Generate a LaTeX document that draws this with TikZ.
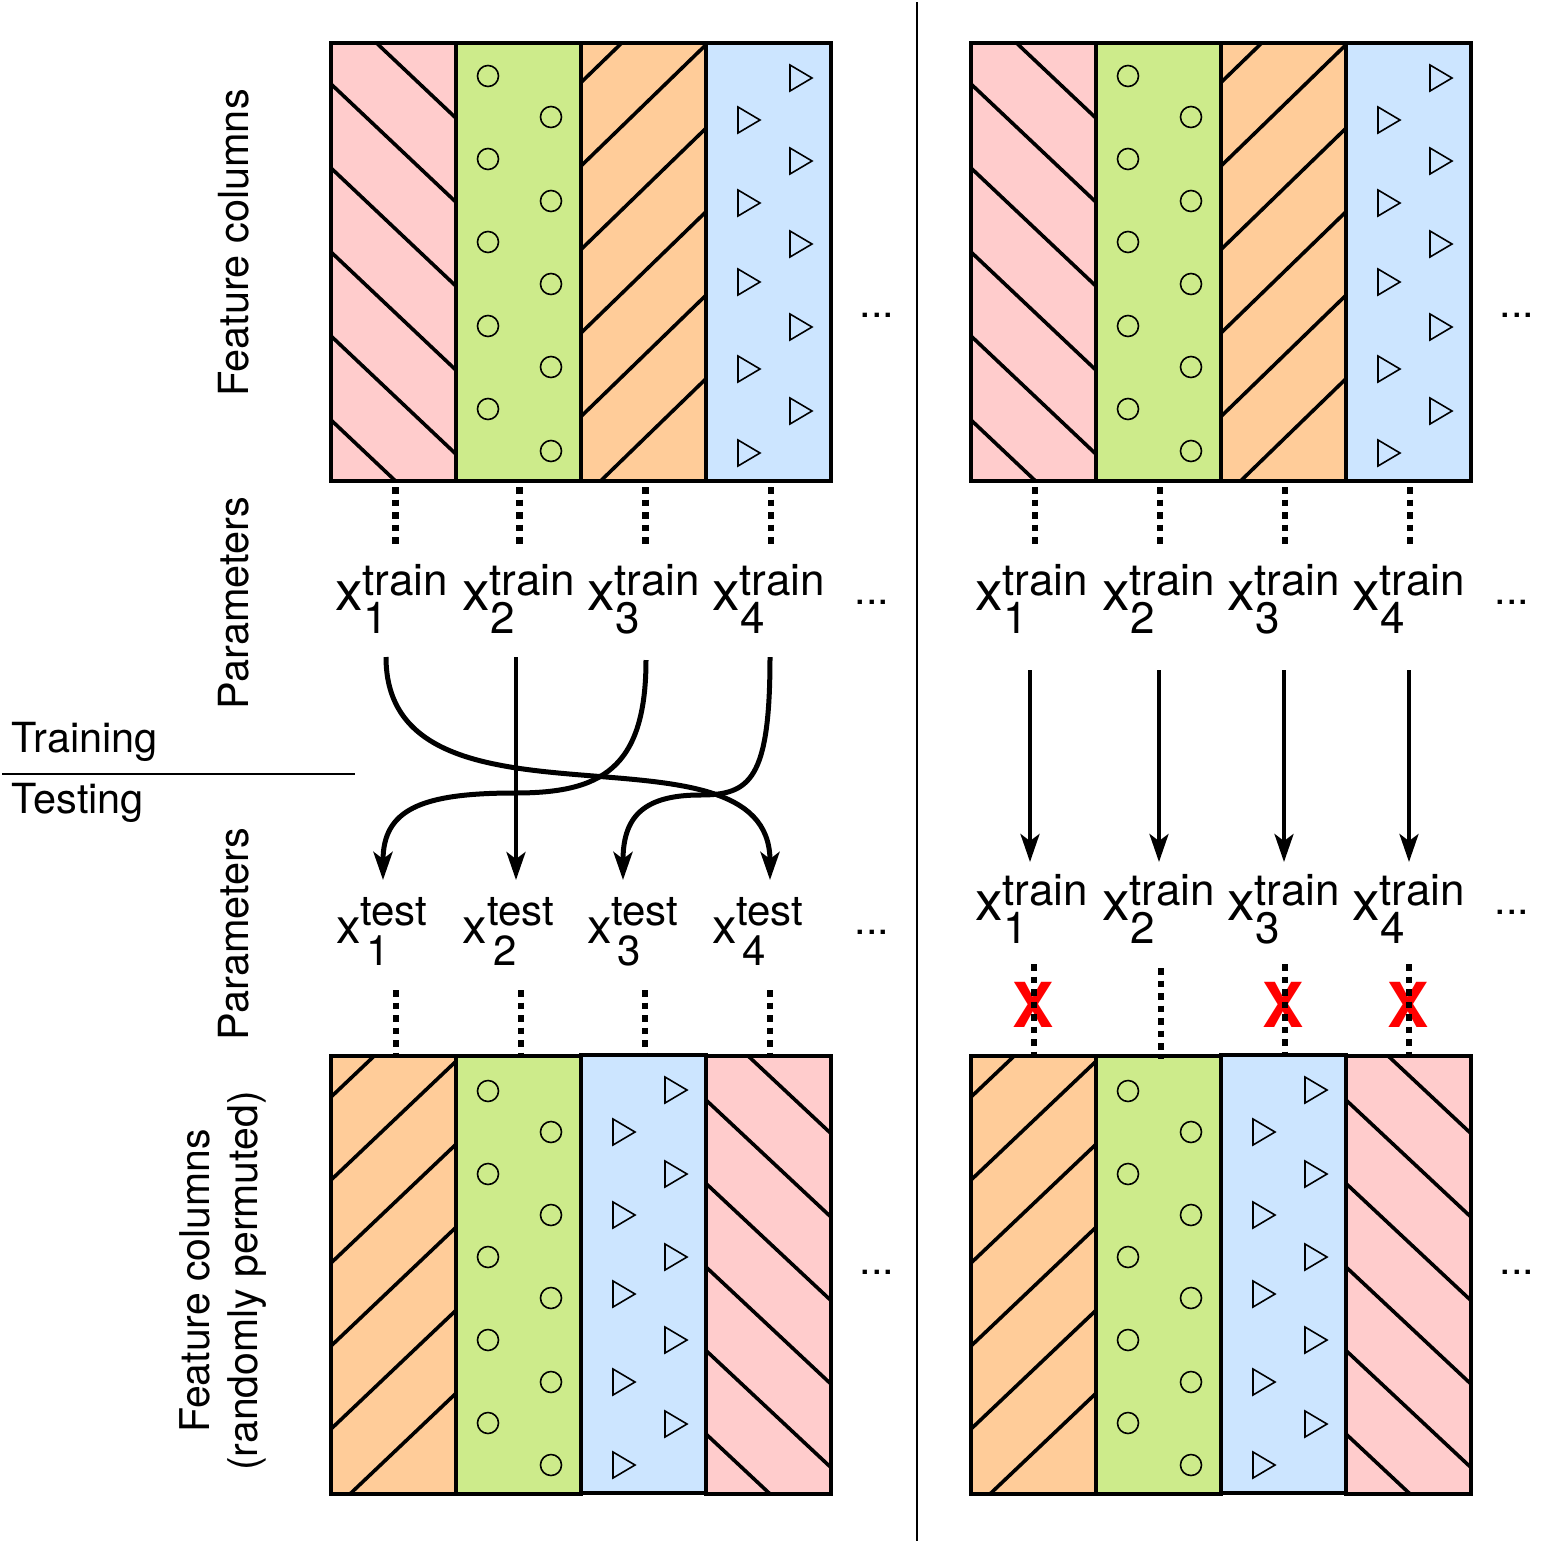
\documentclass[tikz,border=0pt]{standalone}
\usepackage{fontspec}
\setmainfont{TeX Gyre Heros}
\usetikzlibrary{arrows.meta}
\definecolor{cpink}{HTML}{FFCCCC}
\definecolor{cgreen}{HTML}{CDEB8B}
\definecolor{corange}{HTML}{FFCC99}
\definecolor{cblue}{HTML}{CCE5FF}
\definecolor{cred}{HTML}{FF0000}
\tikzset{
  colbox/.style={line width=4pt},
  hatch/.style={line width=3.6pt},
  glyphline/.style={line width=1.6pt},
  dotconn/.style={line width=6.5pt, dash pattern=on 6.5pt off 6pt},
  swaparrow/.style={line width=5pt, -{Stealth[length=28pt,width=19pt,inset=7pt]}},
  keeparrow/.style={line width=4pt, -{Stealth[length=28pt,width=19pt,inset=7pt]}},
  lbl/.style={font=\fontsize{41.5}{48}\selectfont, inner sep=0pt, outer sep=0pt},
  redx/.style={font=\fontsize{62}{62}\selectfont\bfseries, text=cred, inner sep=0pt},
}
\newcommand{\trainlab}[1]{{\fontsize{55}{55}\selectfont x}\rlap{\fontsize{44}{44}\selectfont\raisebox{15pt}{train}}\hspace{1pt}{\fontsize{44}{44}\selectfont\raisebox{-23pt}{#1}}}
\newcommand{\testlab}[1]{{\fontsize{49}{49}\selectfont x}\rlap{\fontsize{42}{42}\selectfont\raisebox{18pt}{test}}\hspace{6pt}{\fontsize{42}{42}\selectfont\raisebox{-22pt}{#1}}}
\newcommand{\toppanel}{%
  \fill[cpink] (331,43) rectangle (456,481);
  \fill[cgreen] (456,43) rectangle (581,481);
  \fill[corange] (581,43) rectangle (706,481);
  \fill[cblue] (706,43) rectangle (831,481);
  \begin{scope}
    \clip (331,43) rectangle (456,481);
    \foreach \yy in {0,84,168,252,336,420} \draw[hatch] (321,\yy-9.45) -- (466,\yy+127.6);
  \end{scope}
  \begin{scope}
    \clip (581,43) rectangle (706,481);
    \foreach \yy in {82.5,166,249.5,333,416.5,500} \draw[hatch] (571,\yy+9.7) -- (716,\yy-131);
  \end{scope}
  \foreach \yy in {76,159,242,326,409} \draw[glyphline] (488,\yy) circle (10.5);
  \foreach \yy in {117,201,284,367,451} \draw[glyphline] (551,\yy) circle (10.5);
  \foreach \yy in {78,161,244,327,411} \draw[glyphline] (790,\yy-13) -- (812,\yy) -- (790,\yy+13) -- cycle;
  \foreach \yy in {120,203,282,369,453} \draw[glyphline] (738,\yy-13) -- (760,\yy) -- (738,\yy+13) -- cycle;
  \foreach \xx in {331,456,581,706} \draw[colbox] (\xx,43) rectangle ++(125,438);
}
\newcommand{\bottompanel}{%
  \fill[corange] (331,1056) rectangle (456,1494);
  \fill[cgreen] (456,1056) rectangle (581,1494);
  \fill[cblue] (581,1055) rectangle (706,1493);
  \fill[cpink] (706,1056) rectangle (831,1494);
  \begin{scope}
    \clip (331,1056) rectangle (456,1494);
    \foreach \yy in {1097,1180,1263,1346,1429,1512} \draw[hatch] (321,\yy+9.5) -- (466,\yy-128.25);
  \end{scope}
  \begin{scope}
    \clip (706,1056) rectangle (831,1494);
    \foreach \yy in {1016.5,1100,1183.5,1267,1350.5,1434} \draw[hatch] (696,\yy-9.36) -- (841,\yy+126.4);
  \end{scope}
  \foreach \yy in {1091,1174,1257,1340,1423} \draw[glyphline] (488,\yy) circle (10.5);
  \foreach \yy in {1132,1215,1298,1382,1465} \draw[glyphline] (551,\yy) circle (10.5);
  \foreach \yy in {1090,1174,1257,1340,1424} \draw[glyphline] (665,\yy-13) -- (687,\yy) -- (665,\yy+13) -- cycle;
  \foreach \yy in {1132,1215,1294,1382,1465} \draw[glyphline] (613,\yy-13) -- (635,\yy) -- (613,\yy+13) -- cycle;
  \draw[colbox] (331,1056) rectangle (456,1494);
  \draw[colbox] (456,1056) rectangle (581,1494);
  \draw[colbox] (706,1056) rectangle (831,1494);
  \draw[colbox] (581,1055) rectangle (706,1493);
}
\begin{document}
\begin{tikzpicture}[x=1pt,y=-1pt]
\fill[white] (0,0) rectangle (1561,1548);
\useasboundingbox (0,0) rectangle (1561,1548);

% panels
\toppanel
\begin{scope}[xshift=640pt]\toppanel\end{scope}
\bottompanel
\begin{scope}[xshift=640pt]\bottompanel\end{scope}

% separators
\draw[line width=2pt] (917,2) -- (917,1541);
\draw[line width=2pt] (2,774) -- (355,774);

% side labels
\node[lbl, rotate=90] (fc1) at (234,243) {Feature columns};
\node[lbl, rotate=90] (par1) at (234,603) {Parameters};
\node[lbl, rotate=90] (par2) at (234,934) {Parameters};
\node[lbl, rotate=90, align=center, font=\fontsize{41}{48}\selectfont] (fc2) at (223,1281) {Feature columns\\(randomly permuted)};
\node[lbl, anchor=base west] (train) at (12,752) {Training};
\node[lbl, anchor=base west] (test) at (12,813) {Testing};

% ellipses
\node[lbl, anchor=base] (d1) at (877,317) {...};
\node[lbl, anchor=base] (d2) at (872,604) {...};
\node[lbl, anchor=base] (d3) at (872,934) {...};
\node[lbl, anchor=base] (d4) at (877,1274) {...};
\node[lbl, anchor=base] (d5) at (1517,317) {...};
\node[lbl, anchor=base] (d6) at (1512,604) {...};
\node[lbl, anchor=base] (d7) at (1512,914) {...};
\node[lbl, anchor=base] (d8) at (1517,1274) {...};

% parameter labels, left
\node[lbl, anchor=base west] (tr1) at (335,610) {\trainlab{1}};
\node[lbl, anchor=base west] (tr2) at (462,610) {\trainlab{2}};
\node[lbl, anchor=base west] (tr3) at (587,610) {\trainlab{3}};
\node[lbl, anchor=base west] (tr4) at (712,610) {\trainlab{4}};
\node[lbl, anchor=base west] (ts1) at (336,943) {\testlab{1}};
\node[lbl, anchor=base west] (ts2) at (462.5,943) {\testlab{2}};
\node[lbl, anchor=base west] (ts3) at (587,943) {\testlab{3}};
\node[lbl, anchor=base west] (ts4) at (712,943) {\testlab{4}};
% parameter labels, right
\node[lbl, anchor=base west] (rt1) at (975,610) {\trainlab{1}};
\node[lbl, anchor=base west] (rt2) at (1102,610) {\trainlab{2}};
\node[lbl, anchor=base west] (rt3) at (1227,610) {\trainlab{3}};
\node[lbl, anchor=base west] (rt4) at (1352,610) {\trainlab{4}};
\node[lbl, anchor=base west] (rb1) at (975,920) {\trainlab{1}};
\node[lbl, anchor=base west] (rb2) at (1102,920) {\trainlab{2}};
\node[lbl, anchor=base west] (rb3) at (1227,920) {\trainlab{3}};
\node[lbl, anchor=base west] (rb4) at (1352,920) {\trainlab{4}};

% red crosses
\node[redx] (x1) at (1033,1005) {X};
\node[redx] (x3) at (1283,1005) {X};
\node[redx] (x4) at (1408,1005) {X};

% dotted links
\foreach \i/\xx in {1/395.7,2/519.5,3/645.5,4/771}{
  \coordinate (tca\i) at (\xx,487);
  \coordinate (tcb\i) at (\xx,546);
  \draw[dotconn] (tca\i) -- (tcb\i);
}
\foreach \i/\xx in {1/1035,2/1160,3/1285,4/1410}{
  \coordinate (rca\i) at (\xx,487);
  \coordinate (rcb\i) at (\xx,546);
  \draw[dotconn] (rca\i) -- (rcb\i);
}
\foreach \i/\xx in {1/396,2/521,3/645,4/770}{
  \coordinate (bca\i) at (\xx,990);
  \coordinate (bcb\i) at (\xx,1054);
  \draw[dotconn] (bca\i) -- (bcb\i);
}
\foreach \i/\xx/\ya/\yb in {1/1034/964/1054,2/1161/968/1059,3/1285/964/1054,4/1409/964/1054}{
  \coordinate (dca\i) at (\xx,\ya);
  \coordinate (dcb\i) at (\xx,\yb);
  \draw[dotconn] (dca\i) -- (dcb\i);
}

% arrows left (permutation)
\coordinate (s1) at (386,657);
\coordinate (s2) at (516,657);
\coordinate (s3) at (646,660);
\coordinate (s4) at (770,657);
\coordinate (e1) at (383,880);
\coordinate (e2) at (516,880);
\coordinate (e3) at (623,880);
\coordinate (e4) at (770,880);
\draw[swaparrow] (s1) .. controls (386,850) and (770,710) .. (e4);
\draw[keeparrow] (s2) -- (e2);
\draw[swaparrow] (s3) .. controls (646,770) and (600,793) .. (515,793) .. controls (420,793) and (383,810) .. (e1);
\draw[swaparrow] (s4) .. controls (770,780) and (750,795) .. (700,795) .. controls (640,795) and (623,820) .. (e3);

% arrows right (identity)
\foreach \i/\xx in {1/1030,2/1159,3/1284,4/1409}{
  \coordinate (rs\i) at (\xx,670);
  \coordinate (re\i) at (\xx,862);
  \draw[keeparrow] (rs\i) -- (re\i);
}
\end{tikzpicture}
\end{document}
